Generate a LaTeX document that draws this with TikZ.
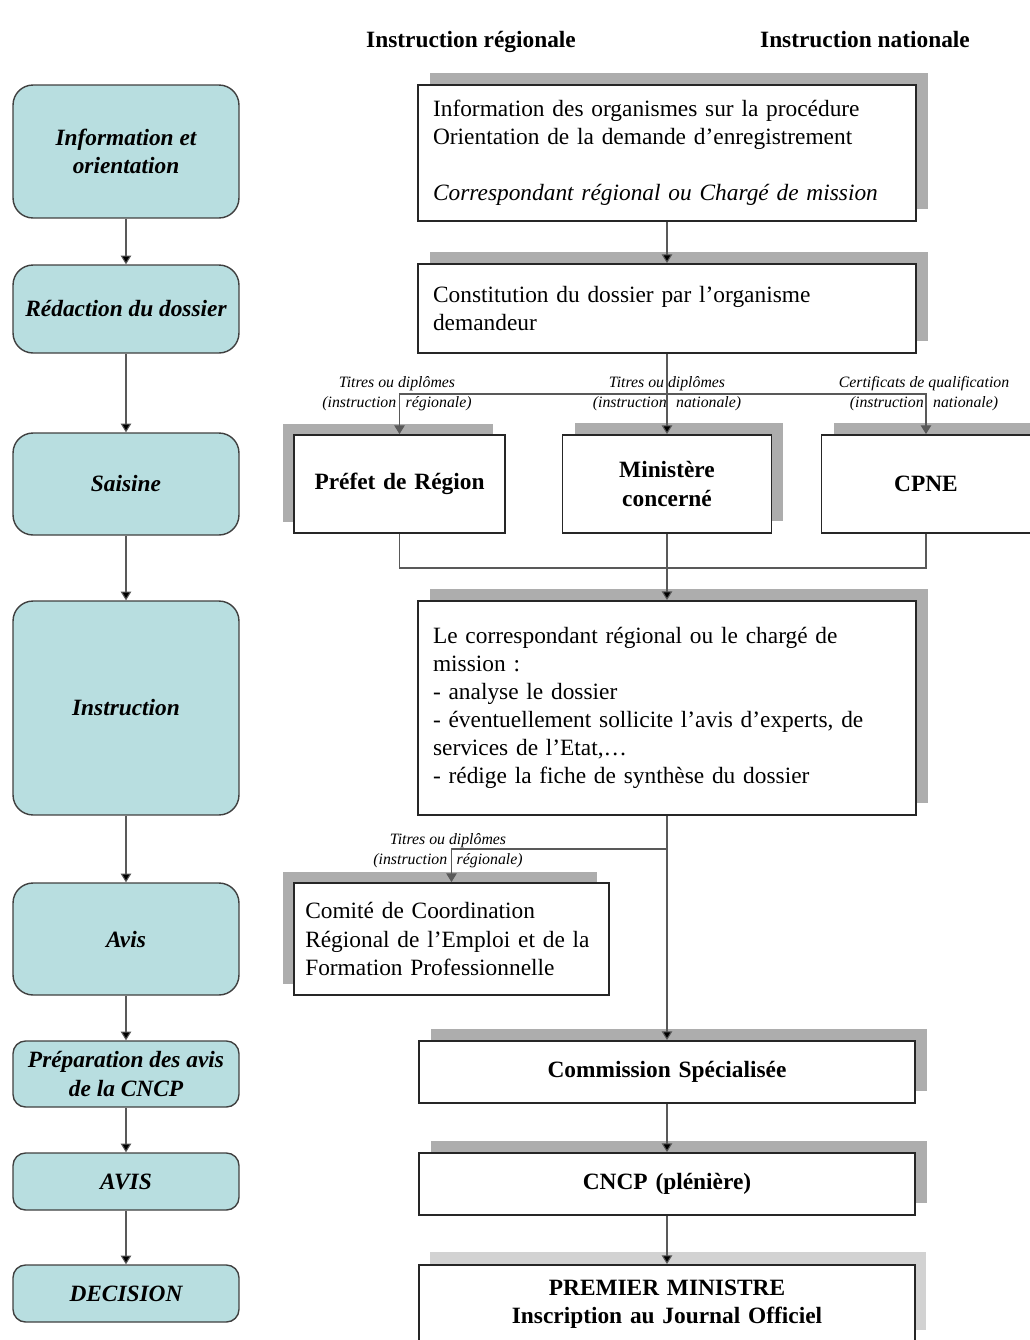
\documentclass[tikz,border=0pt]{standalone}
\usepackage{fontspec}
\setmainfont{Liberation Serif}
\usetikzlibrary{%
  arrows.meta,%
  positioning,%
  calc,%
  shadows%
}
\definecolor{bleuetape}{HTML}{B8DEE0}
\definecolor{ombre}{HTML}{ADADAD}
\definecolor{ombreclaire}{HTML}{D2D2D2}

\begin{document}
\begin{tikzpicture}[
    x=0.02cm, y=-0.02cm,
    font=\fontsize{13.3}{16}\selectfont,
    etape/.style={draw=black!75, line width=0.8pt, fill=bleuetape,
        rounded corners=0.4cm, minimum width=4.52cm, align=center, inner sep=0pt,
        font=\fontsize{13.3}{16}\selectfont\bfseries\itshape},
    cadre/.style={draw=black!85, line width=1.1pt, fill=white, inner sep=0pt},
    gras/.style={font=\fontsize{13.3}{16}\selectfont\bfseries},
    ombredroite/.style={drop shadow={shadow xshift=0.24cm, shadow yshift=0.24cm,
        fill=ombre, opacity=1}},
    ombregauche/.style={drop shadow={shadow xshift=-0.23cm, shadow yshift=0.23cm,
        fill=ombre, opacity=1}},
    petit/.style={font=\fontsize{9}{11.4}\selectfont\itshape, align=center, inner sep=0pt},
    trait/.style={draw=black!65, line width=0.6pt},
    fleche/.style={trait, -{Triangle[length=5pt,width=6pt]}}
]
    \useasboundingbox (0,0) rectangle (1030,1340);

    % en-tetes
    \node[gras, anchor=base] (enteteR) at (471,47) {Instruction régionale};
    \node[gras, anchor=base] (enteteN) at (865,47) {Instruction nationale};

    % colonne des etapes
    \node[etape, minimum height=2.66cm] (info) at (126,151.5) {Information et\\orientation};
    \node[etape, minimum height=1.76cm] (redac) at (126,309) {Rédaction du dossier};
    \node[etape, minimum height=2.04cm] (saisine) at (126,484) {Saisine};
    \node[etape, minimum height=4.28cm] (instruction) at (126,708) {Instruction};
    \node[etape, minimum height=2.24cm] (avis) at (126,939) {Avis};
    \node[etape, minimum height=1.32cm, rounded corners=0.25cm] (prep) at (126,1074) {Préparation des avis\\de la CNCP};
    \node[etape, minimum height=1.14cm, rounded corners=0.25cm] (avisCncp) at (126,1181.5) {AVIS};
    \node[etape, minimum height=1.14cm, rounded corners=0.25cm] (decision) at (126,1293.5) {DECISION};
    \path[fleche] (info) edge (redac) (redac) edge (saisine) (saisine) edge (instruction)
        (instruction) edge (avis) (avis) edge (prep) (prep) edge (avisCncp) (avisCncp) edge (decision);

    % colonne des acteurs
    \node[cadre, ombredroite, text width=9.36cm, inner xsep=0.3cm, minimum height=2.72cm, align=left] (orient) at (667,153)
        {Information des organismes sur la procédure\\Orientation de la demande d’enregistrement\\[16pt]\textit{Correspondant régional ou Chargé de mission}};
    \node[cadre, ombredroite, text width=9.36cm, inner xsep=0.3cm, minimum height=1.78cm, align=left] (constit) at (667,308.5)
        {Constitution du dossier par l’organisme\\demandeur};
    \node[cadre, ombregauche, gras, text width=4.22cm, minimum height=1.96cm, align=center] (prefet) at (399.5,484) {Préfet de Région};
    \node[cadre, ombredroite, gras, text width=4.18cm, minimum height=1.96cm, align=center] (minist) at (667,484) {Ministère\\concerné};
    \node[cadre, ombredroite, gras, text width=4.18cm, minimum height=1.96cm, align=center] (cpne) at (926,484) {CPNE};
    \node[cadre, ombredroite, text width=9.36cm, inner xsep=0.3cm, minimum height=4.28cm, align=left] (synthese) at (667,708)
        {Le correspondant régional ou le chargé de\\mission :\\- analyse le dossier\\- éventuellement sollicite l’avis d’experts, de\\services de l’Etat,…\\- rédige la fiche de synthèse du dossier};
    \node[cadre, ombregauche, text width=5.85cm, inner xsep=0pt, minimum width=6.3cm, minimum height=2.24cm, align=left] (comite) at (451.5,939)
        {Comité de Coordination\\Régional de l’Emploi et de la\\Formation Professionnelle};
    \node[cadre, ombredroite, gras, text width=9.92cm, minimum height=1.24cm, align=center] (commission) at (667,1072) {Commission Spécialisée};
    \node[cadre, ombredroite, gras, text width=9.92cm, minimum height=1.24cm, align=center] (cncp) at (667,1184) {CNCP (plénière)};
    \node[cadre, gras, text width=9.92cm, minimum height=1.56cm, align=center,
        drop shadow={shadow xshift=0.22cm, shadow yshift=0.26cm, fill=ombreclaire, opacity=1}] (premier) at (667,1304)
        {PREMIER MINISTRE\\Inscription au Journal Officiel};

    % embranchements
    \coordinate (split1) at (667,394);
    \coordinate (merge1) at (667,568);
    \coordinate (split2) at (667,849);

    \path[fleche] (orient) edge (constit);
    \path[fleche] (constit) edge (minist);
    \draw[fleche] (split1) -| (prefet);
    \draw[fleche] (split1) -| (cpne);
    \draw[trait] (prefet) |- (merge1);
    \draw[trait] (cpne) |- (merge1);
    \path[fleche] (minist) edge (synthese);
    \path[fleche] (synthese) edge (commission);
    \draw[fleche] (split2) -| (comite);
    \path[fleche] (commission) edge (cncp) (cncp) edge (premier);

    % libelles des branches
    \node[petit] (lbPrefet) at (397,394) {Titres ou diplômes\\(instruction\hspace{0.6em}régionale)};
    \node[petit] (lbMinist) at (667,394) {Titres ou diplômes\\(instruction\hspace{0.6em}nationale)};
    \node[petit] (lbCpne) at (924,394) {Certificats de qualification\\(instruction\hspace{0.6em}nationale)};
    \node[petit] (lbComite) at (448,851) {Titres ou diplômes\\(instruction\hspace{0.6em}régionale)};
\end{tikzpicture}
\end{document}
